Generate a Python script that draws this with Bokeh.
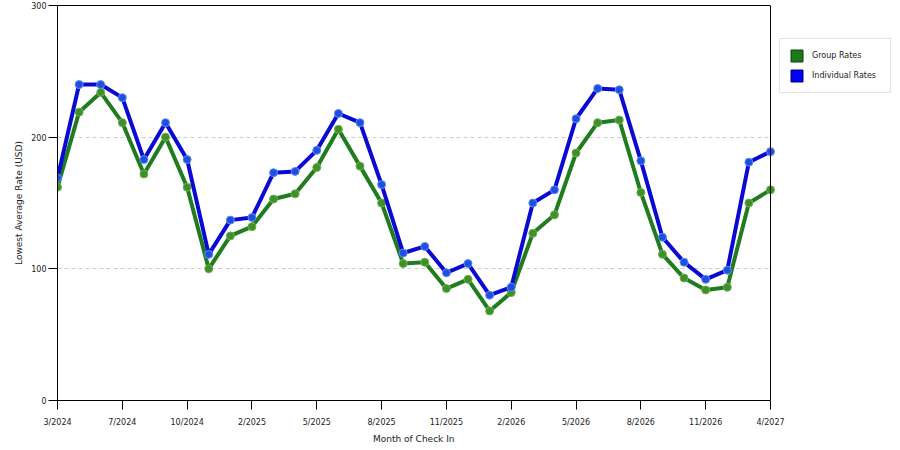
from bokeh.plotting import figure
from bokeh.models import (Range1d, FixedTicker, Legend, LegendItem, LinearAxis,
                          Span, BoxAnnotation, Title)
from bokeh.embed import file_html
from bokeh.resources import INLINE

# Data
tick_labels = ["3/2024", "7/2024", "10/2024", "2/2025", "5/2025", "8/2025",
               "11/2025", "2/2026", "5/2026", "8/2026", "11/2026", "4/2027"]

group_rates = [162, 219, 234, 211, 172, 200, 162, 100, 125, 132, 153, 157,
               177, 206, 178, 150, 104, 105, 85, 92, 68, 82, 127, 141,
               188, 211, 213, 158, 111, 93, 84, 86, 150, 160]

individual_rates = [169, 240, 240, 230, 183, 211, 183, 111, 137, 139, 173, 174,
                    190, 218, 211, 164, 112, 117, 97, 104, 80, 86, 150, 160,
                    214, 237, 236, 182, 124, 105, 92, 99, 181, 189]

x = list(range(len(group_rates)))
tick_pos = list(range(0, len(group_rates), 3))
x_last = x[-1]

FONT = "DejaVu Sans"

# layout: the frame extends to the right edge so the legend (drawn inside the
# frame) is not clipped; the data part covers the left PLOT_W pixels.
LEFT, TOP, BOTTOM = 57, 5, 45
PLOT_W, PLOT_H = 713, 395
FIG_W = 898
FRAME_W = FIG_W - LEFT
x_end = x_last * FRAME_W / PLOT_W
XLABEL_W = 82  # approximate rendered width of the x-axis title

p = figure(width=FIG_W, height=TOP + PLOT_H + BOTTOM, output_backend="svg",
           toolbar_location=None,
           x_range=Range1d(0, x_end), y_range=Range1d(0, 300),
           min_border_left=LEFT, min_border_right=0, min_border_top=TOP,
           min_border_bottom=BOTTOM)

p.outline_line_color = None
p.background_fill_color = "white"
p.border_fill_color = "white"

# grid
p.xgrid.grid_line_color = None
p.ygrid.grid_line_color = "#cccccc"
p.ygrid.grid_line_dash = "4 3"
p.ygrid.ticker = FixedTicker(ticks=[100, 200])
has_cross = "cross_bounds" in p.ygrid[0].properties()
if has_cross:
    p.ygrid[0].cross_bounds = (0, x_last)

# axes
p.xaxis.ticker = FixedTicker(ticks=tick_pos)
p.xaxis.major_label_overrides = {pos: lab for pos, lab in zip(tick_pos, tick_labels)}
p.xaxis.bounds = (0, x_last)
p.yaxis.ticker = FixedTicker(ticks=[0, 100, 200, 300])
for ax in (p.xaxis[0], p.yaxis[0]):
    ax.axis_line_color = "black"
    ax.major_tick_line_color = "black"
    ax.major_tick_out = 9
    ax.major_tick_in = 0
    ax.minor_tick_line_color = None
    ax.major_label_text_font = FONT
    ax.major_label_text_font_size = "8px"
    ax.major_label_text_color = "#222222"
    ax.axis_label_text_font = FONT
    ax.axis_label_text_font_size = "9px"
    ax.axis_label_text_font_style = "normal"
    ax.axis_label_text_color = "#222222"
p.yaxis.axis_label = "Lowest Average Rate (USD)"
p.xaxis.major_label_standoff = 8
p.yaxis.major_label_standoff = 2
p.yaxis.axis_label_standoff = 4

# x-axis title, centred under the data part of the frame
p.add_layout(Title(text="Month of Check In", align="left",
                   offset=(PLOT_W - XLABEL_W) / 2, standoff=4,
                   text_font=FONT, text_font_size="9px",
                   text_font_style="normal", text_color="#222222"), "below")

# top border of the plot box
top_axis = LinearAxis(ticker=FixedTicker(ticks=[]), bounds=(0, x_last),
                      axis_line_color="black", major_tick_line_color=None,
                      minor_tick_line_color=None, major_label_text_font_size="0px")
p.add_layout(top_axis, "above")

if not has_cross:
    p.add_layout(BoxAnnotation(left=x_last, fill_color="white", fill_alpha=1,
                               line_color=None, level="underlay"))

# series
p.line(x, group_rates, line_color="#1f7d1f", line_width=4)
p.scatter(x, group_rates, size=8, fill_color="#3f8f2a", line_color="#6fb04f",
          line_width=1)
p.line(x, individual_rates, line_color="#0a0ad2", line_width=4)
p.scatter(x, individual_rates, size=8, fill_color="#1f4fe0", line_color="#5f8ff0",
          line_width=1)

# right border of the plot box
p.add_layout(Span(location=x_last, dimension="height", line_color="black",
                  line_width=1))

# legend swatches (hidden renderers, shown only in the legend)
g_sw = p.quad(left=[x[0]], right=[x[0]], top=[group_rates[0]],
              bottom=[group_rates[0]], fill_color="#1a7a1a", line_color="#0f3f0f")
b_sw = p.quad(left=[x[0]], right=[x[0]], top=[individual_rates[0]],
              bottom=[individual_rates[0]], fill_color="#0000ff", line_color="#00005f")
g_sw.visible = False
b_sw.visible = False

legend = Legend(items=[LegendItem(label="Group Rates", renderers=[g_sw]),
                       LegendItem(label="Individual Rates", renderers=[b_sw])],
                location=(722, 307), margin=0, padding=9, spacing=5,
                glyph_width=15, glyph_height=15, label_height=15,
                label_width=69, label_standoff=8, click_policy="none",
                label_text_font=FONT, label_text_font_size="8px",
                label_text_color="#222222",
                border_line_color="#c8c8c8", background_fill_color="white")
p.add_layout(legend)

open("out.html", "w").write(file_html(p, INLINE))
